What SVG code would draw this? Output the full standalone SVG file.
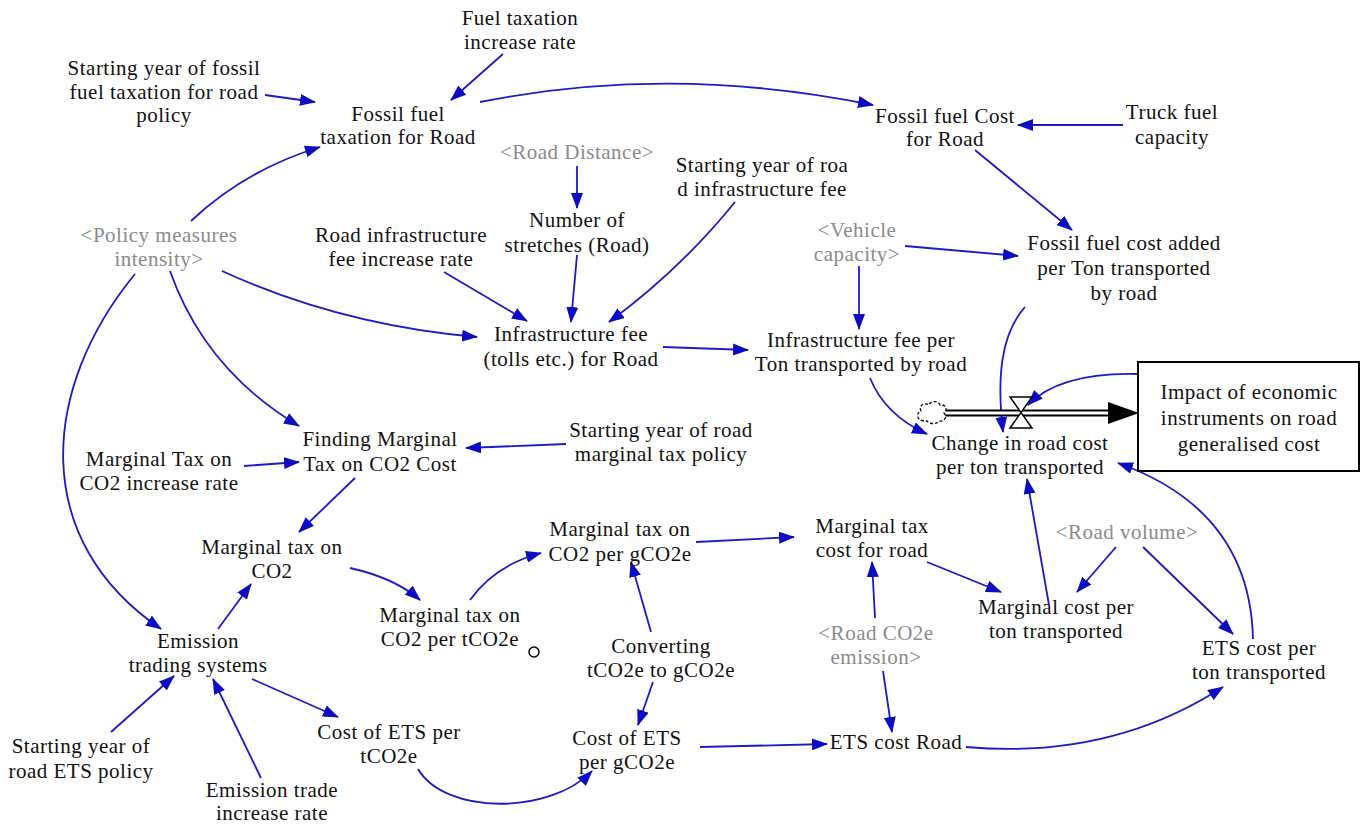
<svg xmlns="http://www.w3.org/2000/svg" width="1365" height="826" viewBox="0 0 1365 826">
  <defs>
    <style>
      .t { font-family: "Liberation Serif", "DejaVu Serif", "Noto Serif", serif; font-size: 21px; letter-spacing: 0.5px; fill: #111; text-anchor: middle; }
      .g { fill: #8a8a8a; }
      .c { fill: none; stroke: #1a1ac8; stroke-width: 1.8; marker-end: url(#ah); }
    </style>
    <marker id="ah" viewBox="0 0 16 12" refX="15" refY="6" markerWidth="16" markerHeight="12" markerUnits="userSpaceOnUse" orient="auto">
      <path d="M0,0 L16,6 L0,12 Z" fill="#0c0cc4"/>
    </marker>
  </defs>
  <rect width="1365" height="826" fill="#fff"/>

  <!-- causal links -->
  <g id="connectors">
    <path class="c" d="M503,54 L451,100"/>
    <path class="c" d="M265,95 L315,102"/>
    <path class="c" d="M480,102 Q672,64 873,105"/>
    <path class="c" d="M1123,125 L1018,125"/>
    <path class="c" d="M975,150 L1072,230"/>
    <path class="c" d="M577,166 L577,208"/>
    <path class="c" d="M735,202 Q680,270 609,322"/>
    <path class="c" d="M577,255 L571,322"/>
    <path class="c" d="M444,272 L527,321"/>
    <path class="c" d="M191,221 Q245,170 320,147"/>
    <path class="c" d="M222,271 Q340,325 477,337"/>
    <path class="c" d="M170,271 Q205,370 299,426"/>
    <path class="c" d="M135,274 C40,390 30,540 161,629"/>
    <path class="c" d="M905,246 L1018,256"/>
    <path class="c" d="M859,266 L859,329"/>
    <path class="c" d="M663,347 L748,350"/>
    <path class="c" d="M1025,307 C1000,335 997,380 1003,432"/>
    <path class="c" d="M870,378 Q885,415 927,434"/>
    <path class="c" d="M1138,374 Q1060,372 1028,405"/>
    <path class="c" d="M1049,605 L1027,479"/>
    <path class="c" d="M1253,639 Q1250,510 1118,463"/>
    <path class="c" d="M1116,547 L1077,592"/>
    <path class="c" d="M1143,547 L1233,634"/>
    <path class="c" d="M927,562 L1001,592"/>
    <path class="c" d="M696,542 L794,537"/>
    <path class="c" d="M651,632 L631,562"/>
    <path class="c" d="M875,618 L872,562"/>
    <path class="c" d="M883,671 L892,732"/>
    <path class="c" d="M653,682 L638,725"/>
    <path class="c" d="M700,747 L827,744"/>
    <path class="c" d="M966,747 Q1110,760 1223,687"/>
    <path class="c" d="M355,478 L299,532"/>
    <path class="c" d="M566,444 L466,448"/>
    <path class="c" d="M244,466 L299,462"/>
    <path class="c" d="M350,568 Q395,578 420,600"/>
    <path class="c" d="M470,600 Q495,565 541,553"/>
    <path class="c" d="M218,629 L251,584"/>
    <path class="c" d="M111,732 L174,676"/>
    <path class="c" d="M261,778 L213,679"/>
    <path class="c" d="M252,679 L338,717"/>
    <path class="c" d="M418,769 C445,815 550,815 592,771"/>
  </g>

  <!-- flow pipe with source cloud and valve -->
  <g id="flow">
    <line x1="945" y1="413" x2="1110" y2="413" stroke="#000" stroke-width="7"/>
    <line x1="944" y1="413" x2="1112" y2="413" stroke="#fff" stroke-width="3"/>
    <path d="M1108,402 L1139,413 L1108,424 Z" fill="#000"/>
    <path d="M924,421 C916,420 916,413 921,411 C918,405 925,402 929,405 C931,400 939,401 940,405 C946,404 948,410 944,413 C948,417 944,422 939,421 C936,425 929,424 927,421 Z" fill="#fff" stroke="#000" stroke-width="1.3" stroke-dasharray="3,2"/>
    <path d="M1010,397 L1032,397 L1010,428 L1032,428 Z" fill="#fff" stroke="#000" stroke-width="1.5"/>
  </g>

  <g id="n-fuel-tax-rate"><text class="t" x="520" y="25"><tspan x="520">Fuel taxation</tspan><tspan x="520" dy="24">increase rate</tspan></text></g>
  <g id="n-start-fossil"><text class="t" x="164" y="75"><tspan x="164">Starting year of fossil</tspan><tspan x="164" dy="24">fuel taxation for road</tspan><tspan x="164" dy="23">policy</tspan></text></g>
  <g id="n-fossil-tax"><text class="t" x="398" y="121"><tspan x="398">Fossil fuel</tspan><tspan x="398" dy="23">taxation for Road</tspan></text></g>
  <g id="n-fossil-cost"><text class="t" x="945" y="123"><tspan x="945">Fossil fuel Cost</tspan><tspan x="945" dy="23">for Road</tspan></text></g>
  <g id="n-truck-fuel"><text class="t" x="1172" y="119"><tspan x="1172">Truck fuel</tspan><tspan x="1172" dy="25">capacity</tspan></text></g>
  <g id="n-road-distance"><text class="t g" x="577" y="159">&lt;Road Distance&gt;</text></g>
  <g id="n-start-infra"><text class="t" x="762" y="172"><tspan x="762">Starting year of roa</tspan><tspan x="762" dy="24">d infrastructure fee</tspan></text></g>
  <g id="n-stretches"><text class="t" x="577" y="227"><tspan x="577">Number of</tspan><tspan x="577" dy="25">stretches (Road)</tspan></text></g>
  <g id="n-policy"><text class="t g" x="159" y="242"><tspan x="159">&lt;Policy measures</tspan><tspan x="159" dy="24">intensity&gt;</tspan></text></g>
  <g id="n-infra-rate"><text class="t" x="401" y="242"><tspan x="401">Road infrastructure</tspan><tspan x="401" dy="24">fee increase rate</tspan></text></g>
  <g id="n-vehicle"><text class="t g" x="857" y="237"><tspan x="857">&lt;Vehicle</tspan><tspan x="857" dy="24">capacity&gt;</tspan></text></g>
  <g id="n-fossil-added"><text class="t" x="1124" y="250"><tspan x="1124">Fossil fuel cost added</tspan><tspan x="1124" dy="25">per Ton transported</tspan><tspan x="1124" dy="25">by road</tspan></text></g>
  <g id="n-infra-fee"><text class="t" x="571" y="341"><tspan x="571">Infrastructure fee</tspan><tspan x="571" dy="25">(tolls etc.) for Road</tspan></text></g>
  <g id="n-infra-per-ton"><text class="t" x="861" y="347"><tspan x="861">Infrastructure fee per</tspan><tspan x="861" dy="24">Ton transported by road</tspan></text></g>
  <g id="n-impact">
    <rect x="1138" y="362" width="221" height="109" fill="#fff" stroke="#000" stroke-width="2"/>
    <text class="t" x="1249" y="399"><tspan x="1249">Impact of economic</tspan><tspan x="1249" dy="26">instruments on road</tspan><tspan x="1249" dy="26">generalised cost</tspan></text>
  </g>
  <g id="n-change"><text class="t" x="1020" y="450"><tspan x="1020">Change in road cost</tspan><tspan x="1020" dy="24">per ton transported</tspan></text></g>
  <g id="n-finding-marginal"><text class="t" x="380" y="446"><tspan x="380">Finding Marginal</tspan><tspan x="380" dy="25">Tax on CO2 Cost</tspan></text></g>
  <g id="n-start-marginal"><text class="t" x="661" y="437"><tspan x="661">Starting year of road</tspan><tspan x="661" dy="24">marginal tax policy</tspan></text></g>
  <g id="n-marginal-rate"><text class="t" x="159" y="466"><tspan x="159">Marginal Tax on</tspan><tspan x="159" dy="24">CO2 increase rate</tspan></text></g>
  <g id="n-marginal-co2"><text class="t" x="272" y="554"><tspan x="272">Marginal tax on</tspan><tspan x="272" dy="24">CO2</tspan></text></g>
  <g id="n-marginal-g"><text class="t" x="620" y="536"><tspan x="620">Marginal tax on</tspan><tspan x="620" dy="25">CO2 per gCO2e</tspan></text></g>
  <g id="n-marginal-road"><text class="t" x="872" y="533"><tspan x="872">Marginal tax</tspan><tspan x="872" dy="24">cost for road</tspan></text></g>
  <g id="n-road-volume"><text class="t g" x="1127" y="539">&lt;Road volume&gt;</text></g>
  <g id="n-marginal-cost-ton"><text class="t" x="1056" y="614"><tspan x="1056">Marginal cost per</tspan><tspan x="1056" dy="24">ton transported</tspan></text></g>
  <g id="n-marginal-t">
    <text class="t" x="450" y="622"><tspan x="450">Marginal tax on</tspan><tspan x="450" dy="24">CO2 per tCO2e</tspan></text>
    <circle cx="534" cy="652" r="5" fill="none" stroke="#000" stroke-width="1.5"/>
  </g>
  <g id="n-converting"><text class="t" x="661" y="653"><tspan x="661">Converting</tspan><tspan x="661" dy="24">tCO2e to gCO2e</tspan></text></g>
  <g id="n-road-co2e"><text class="t g" x="876" y="640"><tspan x="876">&lt;Road CO2e</tspan><tspan x="876" dy="24">emission&gt;</tspan></text></g>
  <g id="n-ets-ton"><text class="t" x="1259" y="655"><tspan x="1259">ETS cost per</tspan><tspan x="1259" dy="24">ton transported</tspan></text></g>
  <g id="n-ets"><text class="t" x="198" y="648"><tspan x="198">Emission</tspan><tspan x="198" dy="24">trading systems</tspan></text></g>
  <g id="n-ets-t"><text class="t" x="389" y="739"><tspan x="389">Cost of ETS per</tspan><tspan x="389" dy="24">tCO2e</tspan></text></g>
  <g id="n-ets-g"><text class="t" x="627" y="745"><tspan x="627">Cost of ETS</tspan><tspan x="627" dy="24">per gCO2e</tspan></text></g>
  <g id="n-ets-road"><text class="t" x="896" y="749">ETS cost Road</text></g>
  <g id="n-start-ets"><text class="t" x="81" y="753"><tspan x="81">Starting year of</tspan><tspan x="81" dy="25">road ETS policy</tspan></text></g>
  <g id="n-ets-rate"><text class="t" x="272" y="797"><tspan x="272">Emission trade</tspan><tspan x="272" dy="23">increase rate</tspan></text></g>
</svg>
